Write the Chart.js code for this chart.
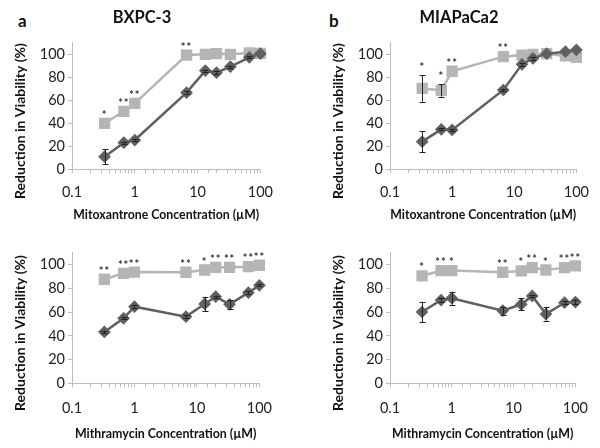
<!DOCTYPE html>
<html>
<head>
<meta charset="utf-8">
<script src="https://cdn.jsdelivr.net/npm/chart.js@4"></script>
<style>
  html, body { margin: 0; padding: 0; background: #fff; width: 600px; height: 448px; overflow: hidden; }
  canvas { position: absolute; }
  .lbl { position: absolute; font: bold 17px Lato, sans-serif; color: #111; }
</style>
</head>
<body>
<div class="lbl" style="left:18px;top:10px;">a</div>
<div class="lbl" style="left:329px;top:10px;">b</div>
<canvas id="c1" width="284" height="224" style="left:0px;top:0px;"></canvas>
<canvas id="c2" width="282" height="224" style="left:318px;top:0px;"></canvas>
<canvas id="c3" width="284" height="224" style="left:0px;top:224px;"></canvas>
<canvas id="c4" width="282" height="224" style="left:318px;top:224px;"></canvas>
<script>
// Concentrations (µM)
const concentrations = [0.33, 0.67, 1, 6.67, 13.3, 20, 33.3, 66.7, 100];
const xTickLabels = [0.1, 1, 10, 100];
const yTickValues = [0, 20, 40, 60, 80, 100];
const yAxisTitle = 'Reduction in Viability (%)';

// Panel a, top: BXPC-3, Mitoxantrone
const bxpcMitoDark = [10.7, 22.9, 25.2, 66.4, 85.5, 83.8, 89, 97.1, 100.3];
const bxpcMitoDarkErr = [6.4, 1, 1, 1, 1, 1, 1, 1, 0];
const bxpcMitoLight = [39.7, 50.2, 57.1, 99.1, 99.7, 100.3, 99.7, 100.9, 100.6];
const bxpcMitoLightErr = [0, 0, 0, 0, 0, 0, 0, 0, 0];
const bxpcMitoStars = ['*', '**', '**', '**', '', '', '', '', ''];

// Panel b, top: MIAPaCa2, Mitoxantrone
const miaMitoDark = [23.8, 34.5, 34, 68.7, 91, 96.2, 100.3, 102, 103.5];
const miaMitoDarkErr = [9.3, 1, 1, 1, 1, 1, 0, 0, 0];
const miaMitoLight = [70.1, 68.4, 85, 97.7, 99.1, 99.7, 100.3, 98.3, 97.1];
const miaMitoLightErr = [11.6, 5.5, 0, 0, 0, 0, 0, 0, 0];
const miaMitoStars = ['*', '*', '**', '**', '', '', '', '', ''];

// Panel a, bottom: BXPC-3, Mithramycin
const bxpcMithDark = [43.3, 54.8, 64.6, 56.2, 66.9, 73, 66.6, 76.4, 82.6];
const bxpcMithDarkErr = [1, 1, 1, 1, 6.1, 1, 3.6, 1, 1];
const bxpcMithLight = [87.7, 92.7, 93.8, 93.6, 95.5, 97.8, 97.8, 98.3, 99.5];
const bxpcMithLightErr = [0, 0, 0, 0, 0, 0, 0, 0, 0];
const bxpcMithStars = ['**', '**', '**', '**', '*', '**', '**', '**', '**'];

// Panel b, bottom: MIAPaCa2, Mithramycin
const miaMithDark = [60.1, 70.2, 71.7, 61.2, 66.6, 73.6, 58.4, 68, 68.5];
const miaMithDarkErr = [8.7, 1.5, 5.5, 3.4, 5, 1, 5.6, 1, 2];
const miaMithLight = [90.5, 95, 95, 93.6, 94.7, 97.5, 95.5, 97.5, 98.9];
const miaMithLightErr = [0, 0, 0, 0, 0, 0, 0, 0, 0];
const miaMithStars = ['*', '**', '*', '**', '*', '**', '*', '**', '**'];

const DARK = '#606060';
const LIGHT = '#b5b5b5';
const AXIS = '#bdbdbd';
const FONT = 'Lato, "Open Sans", sans-serif';

// font size (bold Lato) that gives a text the wanted width
const mctx = document.createElement('canvas').getContext('2d');
function fitSize(text, width) {
  mctx.font = 'bold 20px ' + FONT;
  return Math.round(200 * width / mctx.measureText(text).width) / 10;
}
const yTitleSize = fitSize(yAxisTitle, 156);

const errorBarPlugin = {
  id: 'errorBars',
  afterDatasetsDraw(chart) {
    const ctx = chart.ctx;
    const ys = chart.scales.y;
    chart.data.datasets.forEach((ds, i) => {
      if (!ds.errors) return;
      const meta = chart.getDatasetMeta(i);
      ctx.save();
      ctx.strokeStyle = '#222';
      ctx.lineWidth = 1;
      meta.data.forEach((pt, j) => {
        const e = ds.errors[j];
        if (!e) return;
        const v = ds.data[j].y;
        const yTop = ys.getPixelForValue(v + e);
        const yBot = ys.getPixelForValue(v - e);
        const x = Math.round(pt.x) + 0.5;
        ctx.beginPath();
        ctx.moveTo(x, yTop); ctx.lineTo(x, yBot);
        ctx.moveTo(x - 3, Math.round(yTop) + 0.5); ctx.lineTo(x + 3, Math.round(yTop) + 0.5);
        ctx.moveTo(x - 3, Math.round(yBot) + 0.5); ctx.lineTo(x + 3, Math.round(yBot) + 0.5);
        ctx.stroke();
      });
      ctx.restore();
    });
  }
};

const starPlugin = {
  id: 'stars',
  afterDatasetsDraw(chart, args, opts) {
    const stars = opts.labels;
    if (!stars) return;
    const ctx = chart.ctx;
    const ds = chart.data.datasets[1];
    const meta = chart.getDatasetMeta(1);
    const ys = chart.scales.y;
    ctx.save();
    ctx.fillStyle = '#333';
    ctx.font = 'bold 11px ' + FONT;
    if ('letterSpacing' in ctx) ctx.letterSpacing = '1px';
    ctx.textAlign = 'center';
    ctx.textBaseline = 'middle';
    meta.data.forEach((pt, j) => {
      const s = stars[j];
      if (!s) return;
      const v = ds.data[j].y + (ds.errors ? ds.errors[j] : 0);
      const y = ys.getPixelForValue(v) - 8;
      ctx.fillText(s, pt.x, y);
    });
    ctx.restore();
  }
};

// y-axis title, placed a little below the axis centre as in the original
const yTitlePlugin = {
  id: 'yTitle',
  afterDraw(chart, args, opts) {
    const ctx = chart.ctx;
    const ca = chart.chartArea;
    ctx.save();
    ctx.translate(opts.x, Math.round(ca.bottom - opts.below));
    ctx.rotate(-Math.PI / 2);
    ctx.fillStyle = '#111';
    ctx.font = 'bold ' + yTitleSize + 'px ' + FONT;
    ctx.textAlign = 'center';
    ctx.textBaseline = 'middle';
    ctx.fillText(opts.text, 0, 0);
    ctx.restore();
  }
};

function pts(vals) {
  return concentrations.map((c, i) => ({ x: c, y: vals[i] }));
}

function makeChart(id, cfg) {
  const el = document.getElementById(id);
  new Chart(el, {
    type: 'line',
    data: {
      datasets: [
        {
          data: pts(cfg.dark), errors: cfg.darkErr, clip: false,
          borderColor: DARK, backgroundColor: DARK, borderWidth: 2.5,
          pointStyle: 'rectRot', pointRadius: 4.6, pointHoverRadius: 4.6, tension: 0
        },
        {
          data: pts(cfg.light), errors: cfg.lightErr, clip: false,
          borderColor: LIGHT, backgroundColor: LIGHT, borderWidth: 2.5,
          pointStyle: 'rect', pointRadius: 6.2, pointHoverRadius: 6.2, tension: 0
        }
      ]
    },
    options: {
      responsive: false,
      animation: false,
      events: [],
      layout: { padding: { top: cfg.padTop, left: 0, right: 0, bottom: 0 } },
      plugins: {
        legend: { display: false },
        tooltip: { enabled: false },
        title: cfg.title ? {
          display: true, text: cfg.title, color: '#111',
          font: { family: FONT, size: 16.5, weight: 'bold' },
          padding: { top: 8, bottom: 14.7 }
        } : { display: false },
        stars: { labels: cfg.stars },
        yTitle: { text: yAxisTitle, x: 20, below: cfg.yTitleBelow }
      },
      scales: {
        x: {
          type: 'logarithmic', min: 0.1, max: 100,
          border: { color: AXIS, width: 1 },
          grid: { drawOnChartArea: false, drawTicks: true, tickLength: 4, color: AXIS },
          ticks: {
            autoSkip: false, maxRotation: 0, padding: cfg.xPad, color: '#222',
            font: { family: FONT, size: 14.5 },
            callback: (v) => {
              const hit = xTickLabels.find(t => Math.abs(t - v) < 1e-9 * Math.max(1, t));
              return hit !== undefined ? String(hit) : '';
            }
          },
          title: {
            display: true, text: cfg.xTitle, color: '#111',
            font: { family: FONT, size: fitSize(cfg.xTitle, cfg.xTitleWidth), weight: 'bold', lineHeight: 1 },
            padding: { top: 0, bottom: cfg.xTitlePadBottom }
          },
          afterFit: (s) => { s.height = cfg.xHeight; }
        },
        y: {
          min: 0, max: 110,
          border: { color: AXIS, width: 1 },
          grid: { drawOnChartArea: false, drawTicks: true, tickLength: 4, color: AXIS },
          afterBuildTicks: (s) => { s.ticks = yTickValues.map(v => ({ value: v })); },
          ticks: { padding: 3, color: '#222', font: { family: FONT, size: 14.5 } },
          title: { display: false },
          afterFit: (s) => { s.width = 72; }
        }
      }
    },
    plugins: [errorBarPlugin, starPlugin, yTitlePlugin]
  });
}

makeChart('c1', {
  title: 'BXPC-3', padTop: 0, yTitleBelow: 48,
  dark: bxpcMitoDark, darkErr: bxpcMitoDarkErr,
  light: bxpcMitoLight, lightErr: bxpcMitoLightErr, stars: bxpcMitoStars,
  xTitle: 'Mitoxantrone Concentration (µM)', xTitleWidth: 186,
  xHeight: 55, xPad: 11, xTitlePadBottom: 3
});
makeChart('c2', {
  title: 'MIAPaCa2', padTop: 0, yTitleBelow: 48,
  dark: miaMitoDark, darkErr: miaMitoDarkErr,
  light: miaMitoLight, lightErr: miaMitoLightErr, stars: miaMitoStars,
  xTitle: 'Mitoxantrone Concentration (µM)', xTitleWidth: 186,
  xHeight: 55, xPad: 11, xTitlePadBottom: 3
});
makeChart('c3', {
  title: null, padTop: 28.8, yTitleBelow: 50,
  dark: bxpcMithDark, darkErr: bxpcMithDarkErr,
  light: bxpcMithLight, lightErr: bxpcMithLightErr, stars: bxpcMithStars,
  xTitle: 'Mithramycin Concentration (µM)', xTitleWidth: 181,
  xHeight: 64.7, xPad: 12, xTitlePadBottom: 8
});
makeChart('c4', {
  title: null, padTop: 28.8, yTitleBelow: 50,
  dark: miaMithDark, darkErr: miaMithDarkErr,
  light: miaMithLight, lightErr: miaMithLightErr, stars: miaMithStars,
  xTitle: 'Mithramycin Concentration (µM)', xTitleWidth: 181,
  xHeight: 64.7, xPad: 12, xTitlePadBottom: 8
});
</script>
</body>
</html>
